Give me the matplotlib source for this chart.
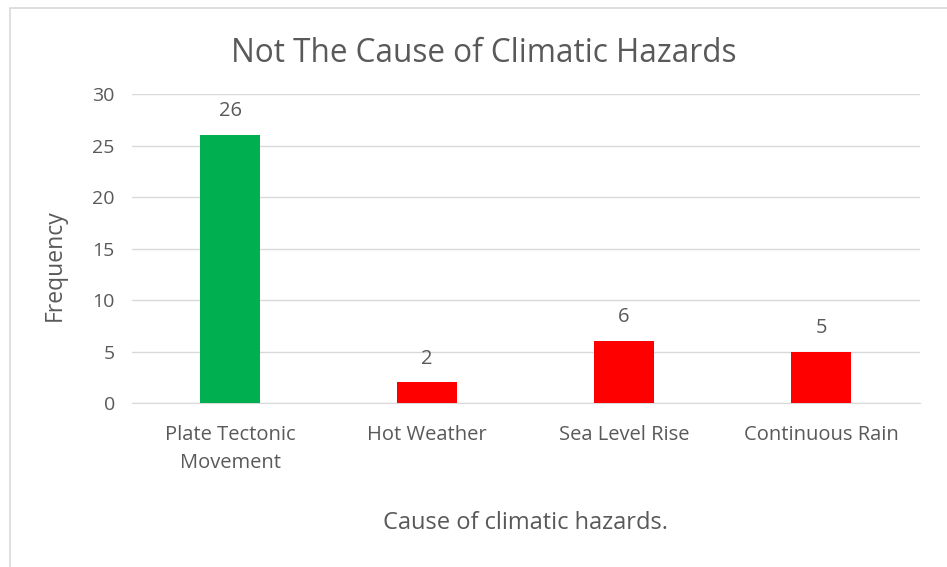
import matplotlib
matplotlib.use("Agg")
import matplotlib.pyplot as plt
from matplotlib.patches import Rectangle

categories = ["Plate Tectonic\nMovement", "Hot Weather", "Sea Level Rise", "Continuous Rain"]
values = [26, 2, 6, 5]
colors = ["#00B050", "#FF0000", "#FF0000", "#FF0000"]
yticks = [0, 5, 10, 15, 20, 25, 30]

plt.rcParams['font.family'] = ['Open Sans', 'DejaVu Sans']
txt = "#595959"

fig = plt.figure(figsize=(9.47, 5.67), dpi=100)
fig.patches.append(Rectangle((10/947, -0.01), 1.0, 1 - 8/567 + 0.01, transform=fig.transFigure,
                             fill=False, edgecolor="#D9D9D9", linewidth=1.2))
ax = fig.add_axes([0.1389, 0.2892, 0.971 - 0.1389, 0.8342 - 0.2892])
x = list(range(len(categories)))
bars = ax.bar(x, values, width=0.305, color=colors, zorder=3)
ax.set_xlim(-0.5, 3.5)
ax.set_ylim(0, 30)
ax.set_yticks(yticks)
ax.grid(axis="y", color="#D9D9D9", linewidth=1, zorder=0)
for s in ["top", "right", "left"]:
    ax.spines[s].set_visible(False)
ax.spines["bottom"].set_color("#D9D9D9")
ax.tick_params(axis="y", length=0, colors=txt, labelsize=14, pad=12)
ax.tick_params(axis="x", length=0, colors=txt, labelsize=14.5, pad=16)
ax.set_xticks(x)
ax.set_xticklabels(categories, linespacing=1.55)
for xi, v in zip(x, values):
    ax.annotate(str(v), (xi, v), xytext=(0, 10), textcoords="offset points",
                ha="center", va="bottom", color=txt, fontsize=14.5)
ax.set_ylabel("Frequency", color=txt, fontsize=16.5, va="center")
ax.yaxis.set_label_coords(-0.098, 0.447)
ax.set_xlabel("Cause of climatic hazards.", color=txt, fontsize=17, labelpad=27)
fig.text(484/947, 1 - 53/567, "Not The Cause of Climatic Hazards", ha="center", va="center",
         color=txt, fontsize=22.7)
fig.savefig("out.png", dpi=100)
